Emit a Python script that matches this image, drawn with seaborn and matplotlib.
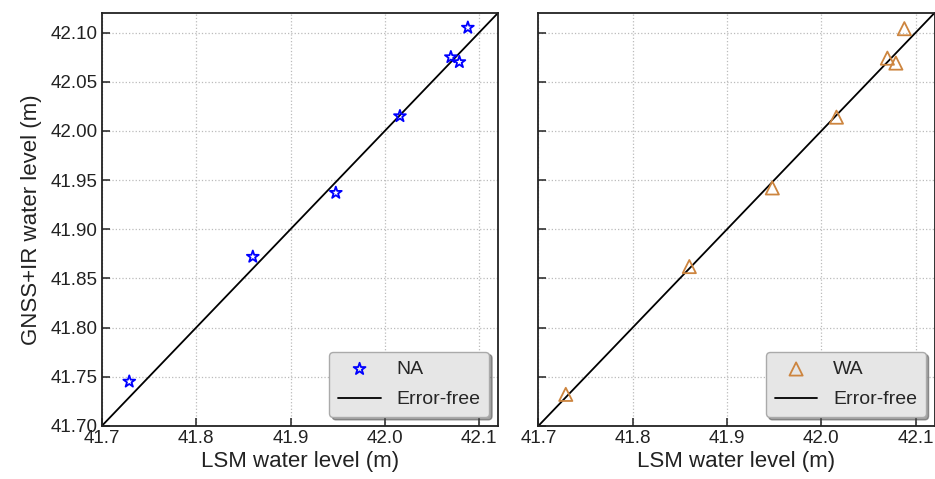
import matplotlib
matplotlib.use("Agg")
import matplotlib.pyplot as plt
import seaborn as sns
import numpy as np
import pandas as pd

# LSM reference water levels (m)
lsm = [41.729, 41.860, 41.948, 42.016, 42.070, 42.079, 42.088]
# GNSS+IR retrievals (m)
na_level = [41.745, 41.872, 41.937, 42.015, 42.075, 42.070, 42.105]
wa_level = [41.732, 41.862, 41.942, 42.014, 42.074, 42.069, 42.104]
# 1:1 reference line end points
ref_line = [41.70, 42.12]
tick_x = [41.7, 41.8, 41.9, 42.0, 42.1]
tick_y = [41.70, 41.75, 41.80, 41.85, 41.90, 41.95, 42.00, 42.05, 42.10]

sns.set_theme(style="white")
plt.rcParams["font.family"] = ["Liberation Sans", "DejaVu Sans"]
plt.rcParams["xtick.direction"] = "in"
plt.rcParams["ytick.direction"] = "in"

fig, axes = plt.subplots(1, 2, figsize=(9.35, 4.79), dpi=100, sharey=True)
fig.subplots_adjust(left=0.109, right=0.9995, bottom=0.111, top=0.973, wspace=0.102)

panels = [
    ("NA", na_level, "*", "blue", 9),
    ("WA", wa_level, "^", "#cd853f", 9.5),
]
ref = pd.DataFrame({"x": ref_line, "y": ref_line})

for ax, (name, vals, mk, col, ms) in zip(axes, panels):
    df = pd.DataFrame({"x": lsm, "y": vals})
    sns.scatterplot(data=df, x="x", y="y", ax=ax, marker=mk, s=ms ** 2,
                    facecolors="none", edgecolor=col, linewidth=1.3,
                    label=name, zorder=3)
    sns.lineplot(data=ref, x="x", y="y", ax=ax, color="black", linewidth=1.3,
                 label="Error-free", zorder=2)
    ax.set_xlim(41.70, 42.12)
    ax.set_ylim(41.70, 42.12)
    ax.set_xticks(tick_x)
    ax.set_yticks(tick_y)
    ax.set_xticklabels([f"{v:.1f}" for v in tick_x])
    ax.grid(True, linestyle=":", color="#bbbbbb", linewidth=0.9)
    ax.set_axisbelow(True)
    ax.tick_params(axis="both", bottom=True, left=True, top=False, right=False,
                   labelsize=13.5, length=6, width=1.1, color="#222222",
                   labelcolor="#222222", pad=3)
    for sp in ax.spines.values():
        sp.set_color("#222222")
        sp.set_linewidth(1.3)
    ax.set_xlabel("LSM water level (m)", fontsize=16, color="#222222", labelpad=3)
    ax.set_ylabel("")
    leg = ax.legend(loc="lower right", fontsize=14, shadow=True, fancybox=True,
                    frameon=True, borderpad=0.45, labelspacing=0.65,
                    handlelength=2.2, bbox_to_anchor=(1.0, 0.0),
                    borderaxespad=0.45)
    leg.get_frame().set_facecolor("#e6e6e6")
    leg.get_frame().set_edgecolor("#aaaaaa")
    leg.get_frame().set_alpha(1)
    leg.legend_handles[0].set_facecolor("none")
    leg.legend_handles[0].set_edgecolor(col)

axes[0].set_ylabel("GNSS+IR water level (m)", fontsize=16, color="#222222", labelpad=6)
axes[0].set_yticklabels([f"{v:.2f}" for v in tick_y])

fig.savefig("out.png", dpi=100)
